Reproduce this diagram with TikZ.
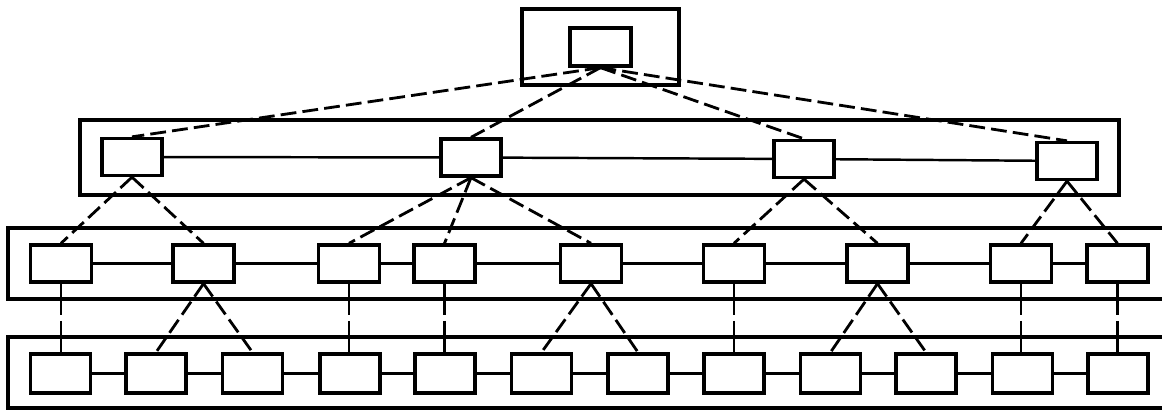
\documentclass[tikz,border=0pt]{standalone}
\begin{document}
\begin{tikzpicture}[x=0.02cm,y=-0.02cm,
  container/.style={line width=2.6pt},
  unit/.style={draw,line width=1.9pt,inner sep=0pt,minimum width=1.2cm,minimum height=0.74cm},
  topunit/.style={unit,minimum width=1.22cm,minimum height=0.76cm},
  link/.style={line width=1.4pt},
  dlink/.style={line width=1.6pt,dash pattern=on 9pt off 3.5pt}]
\useasboundingbox (0,0) rectangle (1162,411);
% containers
\draw[container] (522,9) rectangle (679,85);
\draw[container] (80,120) rectangle (1119,195);
\draw[container] (1162,228) -- (8,228) -- (8,299) -- (1162,299);
\draw[container] (1162,337) -- (8,337) -- (8,408) -- (1162,408);
\coordinate (L2b) at (0,299);
\coordinate (L3t) at (0,337);
% top
\node[topunit] (T) at (600.5,47) {};
% level 1
\node[unit] (A) at (132,157) {};
\node[unit] (B) at (471,157.5) {};
\node[unit] (C) at (804,159) {};
\node[unit] (D) at (1067,161) {};
% level 2
\foreach \n/\x in {1/61,2/203.5,3/349,4/444.5,5/591,6/734,7/877.5,8/1021,9/1117.5}
  \node[unit,minimum width=1.22cm] (n\n) at (\x,263.5) {};
% level 3
\foreach \n/\x in {1/60.5,2/156,3/252.5,4/350,5/445,6/541.5,7/638,8/734,9/830.5,10/926,11/1022.5,12/1118}
  \node[unit,minimum height=0.78cm] (m\n) at (\x,373.5) {};
% horizontal links
\draw[link] (A) -- (B) (B) -- (C) (C) -- (D);
\foreach \a/\b in {1/2,2/3,3/4,4/5,5/6,6/7,7/8,8/9}
  \draw[link] (n\a) -- (n\b);
\foreach \a/\b in {1/2,2/3,3/4,4/5,5/6,6/7,7/8,8/9,9/10,10/11,11/12}
  \draw[link] (m\a) -- (m\b);
% top to level 1
\foreach \t in {A,B,C,D}
  \draw[dlink] (T.south) -- (\t.north);
% level 1 to level 2
\draw[dlink] (A.south) -- (n1.north);
\draw[dlink] (A.south) -- (n2.north);
\draw[dlink] (B.south) -- (n3.north);
\draw[dlink] (B.south) -- (n4.north);
\draw[dlink] (B.south) -- (n5.north);
\draw[dlink] (C.south) -- (n6.north);
\draw[dlink] (C.south) -- (n7.north);
\draw[dlink] (D.south) -- (n8.north);
\draw[dlink] (D.south) -- (n9.north);
% level 2 to level 3 diagonals
\draw[dlink] (n2.south) -- (m2.north);
\draw[dlink] (n2.south) -- (m3.north);
\draw[dlink] (n5.south) -- (m6.north);
\draw[dlink] (n5.south) -- (m7.north);
\draw[dlink] (n7.south) -- (m9.north);
\draw[dlink] (n7.south) -- (m10.north);
% level 2 to level 3 verticals
\foreach \a/\b in {1/1,3/4,4/5,6/8,8/11,9/12}{
  \draw[link] (n\a.south) -- (n\a.south |- L2b);
  \draw[dlink] (n\a.south |- L2b) -- (n\a.south |- L3t);
  \draw[link] (n\a.south |- L3t) -- (m\b.north -| n\a.south);
}
\end{tikzpicture}
\end{document}
